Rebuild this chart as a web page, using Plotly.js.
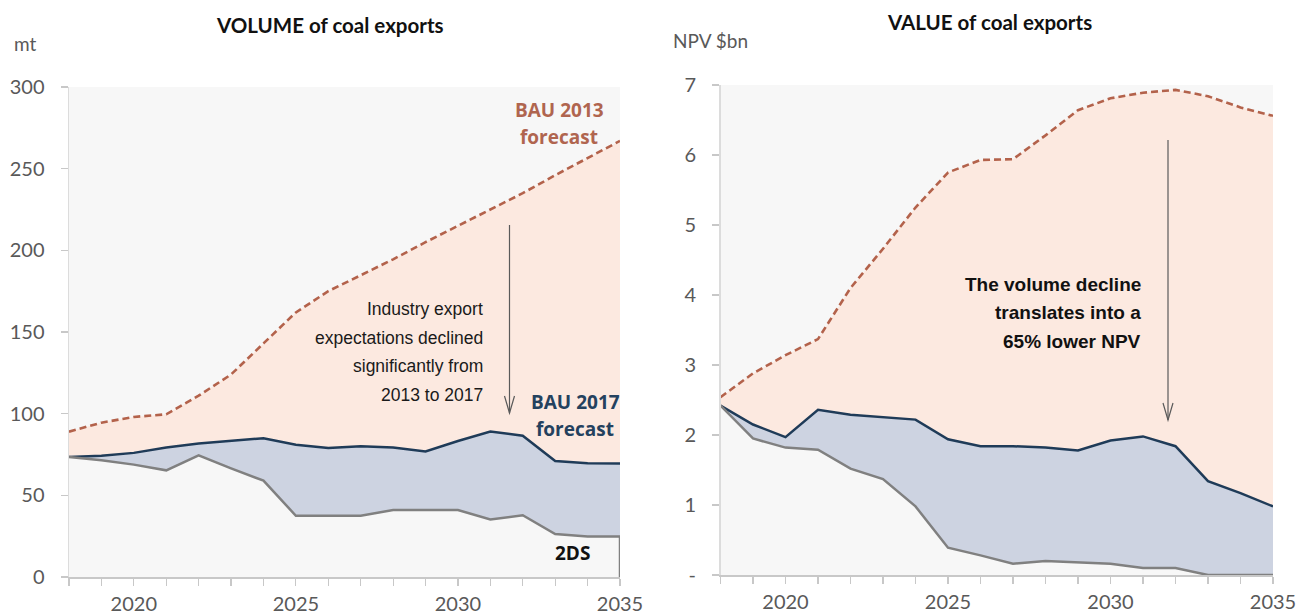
<!DOCTYPE html>
<html>
<head>
<meta charset="utf-8">
<script src="https://cdn.plot.ly/plotly-3.0.1.min.js"></script>
<style>
  html, body { margin: 0; padding: 0; background: #ffffff; }
  #chart { width: 1303px; height: 615px; }
</style>
</head>
<body>
<div id="chart"></div>
<script>
// ---------- DATA ----------
const years = [2018, 2019, 2020, 2021, 2022, 2023, 2024, 2025, 2026, 2027, 2028, 2029, 2030, 2031, 2032, 2033, 2034, 2035];
const xTickText = ['', '', '2020', '', '', '', '', '2025', '', '', '', '', '2030', '', '', '', '', '2035'];

// Volume of coal exports (mt)
const volBAU2013 = [89, 94.5, 98, 99.6, 111, 124, 143, 162, 175, 184.5, 194.5, 205, 215, 225, 235, 246, 256.5, 267];
const volBAU2017 = [73.5, 74.2, 76, 79.3, 81.8, 83.5, 85, 81, 79, 80, 79.3, 76.8, 83.3, 89, 86.5, 71, 69.6, 69.5];
const vol2DS     = [73.5, 71.5, 68.8, 65.3, 74.5, 66.5, 59, 37.5, 37.5, 37.5, 41, 41, 41, 35.2, 37.8, 26.3, 24.8, 24.8];

// Value of coal exports (NPV $bn)
const valBAU2013 = [2.54, 2.88, 3.14, 3.37, 4.1, 4.66, 5.25, 5.75, 5.93, 5.94, 6.28, 6.64, 6.81, 6.89, 6.93, 6.84, 6.68, 6.56];
const valBAU2017 = [2.42, 2.15, 1.97, 2.36, 2.29, 2.26, 2.22, 1.94, 1.84, 1.84, 1.82, 1.78, 1.92, 1.98, 1.84, 1.34, 1.17, 0.98];
const val2DS     = [2.42, 1.95, 1.82, 1.79, 1.52, 1.37, 0.98, 0.39, 0.28, 0.16, 0.20, 0.18, 0.16, 0.10, 0.10, 0, 0, 0];

const volTicks = [0, 50, 100, 150, 200, 250, 300];
const valTicks = [0, 1, 2, 3, 4, 5, 6, 7];
const valTickText = ['-', '1', '2', '3', '4', '5', '6', '7'];

// ---------- STYLE ----------
const W = 1303, H = 615;
const px = X => X / W;
const py = Y => 1 - Y / H;

const C_BG = '#f7f7f7';
const C_PEACH = '#fce9e0';
const C_BLUE = '#cdd3e1';
const C_DASH = '#b3624b';
const C_NAVY = '#1f3b58';
const C_GRAY = '#808080';
const C_AXIS = '#c8c8c8';
const C_TXT = '#595959';

const tickFont = { family: 'Lato, "Open Sans", sans-serif', size: 20, color: C_TXT };

function series(xa, ya, b13, b17, d2) {
  return [
    { x: years, y: b13, xaxis: xa, yaxis: ya, type: 'scatter', mode: 'lines', fill: 'tozeroy', fillcolor: C_PEACH,
      line: { color: C_DASH, width: 2.6, dash: '7px,4px' }, hoverinfo: 'skip' },
    { x: years, y: b17, xaxis: xa, yaxis: ya, type: 'scatter', mode: 'lines', fill: 'tozeroy', fillcolor: C_BLUE,
      line: { color: C_NAVY, width: 2.5 }, hoverinfo: 'skip' },
    { x: years, y: d2, xaxis: xa, yaxis: ya, type: 'scatter', mode: 'lines', fill: 'tozeroy', fillcolor: C_BG,
      line: { color: C_GRAY, width: 2.5 }, hoverinfo: 'skip' }
  ];
}

const traces = [].concat(
  series('x', 'y', volBAU2013, volBAU2017, vol2DS),
  series('x2', 'y2', valBAU2013, valBAU2017, val2DS)
);
// closing edge of the 2DS line at the end of the volume chart
traces.push({ x: [years[years.length - 1], years[years.length - 1]], y: [vol2DS[vol2DS.length - 1], 0],
  xaxis: 'x', yaxis: 'y', type: 'scatter', mode: 'lines', line: { color: C_GRAY, width: 2.5 }, hoverinfo: 'skip' });

function xAxis(d0, d1, anchor) {
  return {
    domain: [px(d0), px(d1)], range: [years[0], years[years.length - 1]], anchor: anchor,
    tickmode: 'array', tickvals: years, ticktext: xTickText,
    ticks: 'outside', ticklen: 7, tickwidth: 1.2, tickcolor: C_AXIS, ticklabelstandoff: 1,
    showline: true, linecolor: C_AXIS, linewidth: 1.5, showgrid: false, zeroline: false,
    tickfont: tickFont, fixedrange: true
  };
}
function yAxis(top, bottom, range, tv, tt, anchor) {
  return {
    domain: [py(bottom), py(top)], range: range, anchor: anchor,
    tickmode: 'array', tickvals: tv, ticktext: tt,
    ticks: 'outside', ticklen: 7, tickwidth: 1.2, tickcolor: C_AXIS, ticklabelstandoff: 12,
    showline: true, linecolor: '#dcdcdc', linewidth: 1.5, showgrid: false, zeroline: false,
    tickfont: tickFont, fixedrange: true
  };
}

const noteFam = '"Liberation Sans", Arial, sans-serif';
const ann = [];
function txt(text, X, Y, opts) {
  ann.push(Object.assign({ text: text, xref: 'paper', yref: 'paper', x: px(X), y: py(Y),
    xanchor: 'center', yanchor: 'middle', showarrow: false }, opts));
}
// titles
txt('<b>VOLUME of coal exports</b>', 330, 25, { font: { family: 'Lato, sans-serif', size: 20.5, color: '#111' } });
txt('<b>VALUE of coal exports</b>', 989, 22, { font: { family: 'Lato, sans-serif', size: 20.5, color: '#111' } });
// units
txt('mt', 12, 44, { xanchor: 'left', font: { family: 'Lato, sans-serif', size: 19, color: C_TXT } });
txt('NPV $bn', 671, 41, { xanchor: 'left', font: { family: 'Lato, sans-serif', size: 19, color: C_TXT } });
// series labels
const lblFont = c => ({ family: '"Open Sans", sans-serif', size: 19, color: c });
txt('<b>BAU 2013</b>', 559, 110, { font: lblFont('#b0654f') });
txt('<b>forecast</b>', 559, 137, { font: lblFont('#b0654f') });
txt('<b>BAU 2017</b>', 575, 402, { font: lblFont('#24415e') });
txt('<b>forecast</b>', 575, 429, { font: lblFont('#24415e') });
txt('<b>2DS</b>', 572, 553, { font: lblFont('#111') });
// left note
const noteFont = { family: noteFam, size: 17.5, color: '#1a1a1a' };
['Industry export', 'expectations declined', 'significantly from', '2013 to 2017'].forEach((t, i) => {
  txt(t, 485, 309 + i * 28.5, { xanchor: 'right', font: noteFont });
});
// right note
const boldNote = { family: noteFam, size: 19, color: '#111' };
['The volume decline', 'translates into a', '65% lower NPV'].forEach((t, i) => {
  txt('<b>' + t + '</b>', 1143, 284 + i * 28.5, { xanchor: 'right', font: boldNote });
});

// arrows (vertical lines with open V heads)
function arrow(X, Y0, Y1) {
  return [
    { type: 'line', xref: 'paper', yref: 'paper', x0: px(X), x1: px(X), y0: py(Y0), y1: py(Y1),
      line: { color: '#5a5a5a', width: 1.2 } },
    { type: 'path', xref: 'paper', yref: 'paper',
      path: 'M ' + px(X - 5) + ' ' + py(Y1 - 17) + ' L ' + px(X) + ' ' + py(Y1) + ' L ' + px(X + 5) + ' ' + py(Y1 - 17),
      line: { color: '#5a5a5a', width: 1.2 } }
  ];
}
const shapes = [].concat(arrow(509.5, 225, 413), arrow(1168, 140, 420));

const layout = {
  width: W, height: H,
  margin: { l: 0, r: 0, t: 0, b: 0 },
  paper_bgcolor: '#ffffff', plot_bgcolor: C_BG,
  showlegend: false,
  xaxis: xAxis(69, 620, 'y'),
  yaxis: yAxis(87, 577, [0, 300], volTicks, volTicks.map(String), 'x'),
  xaxis2: xAxis(720.5, 1273, 'y2'),
  yaxis2: yAxis(85, 575, [0, 7], valTicks, valTickText, 'x2'),
  annotations: ann,
  shapes: shapes
};

Plotly.newPlot('chart', traces, layout, { displayModeBar: false, staticPlot: true });
</script>
</body>
</html>
